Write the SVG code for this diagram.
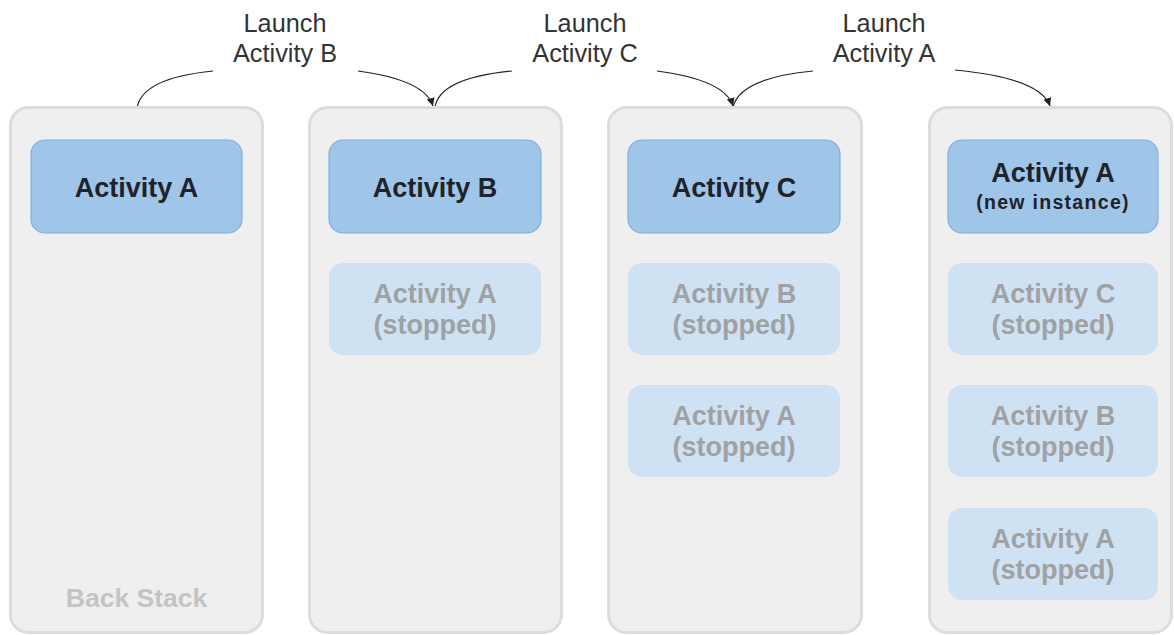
<svg xmlns="http://www.w3.org/2000/svg" width="1174" height="635" viewBox="0 0 1174 635">
<style>
.panel{fill:#efefef;stroke:#dcdcdc;stroke-width:3}
.top{fill:#9fc5e8;stroke:#80b0de;stroke-width:1.2}
.old{fill:#cfe2f3}
.t{font-family:"Liberation Sans",Arial,sans-serif;font-weight:bold;text-anchor:middle}
.dark{fill:#1e2329;font-size:27px}
.gray{fill:#9fa1a4;font-size:27px}
.bs{fill:#c4c4c4;font-size:26.5px}
.lab{font-family:"Liberation Sans",Arial,sans-serif;font-size:25.3px;fill:#333;text-anchor:middle}
.c{fill:none;stroke:#222;stroke-width:1.2}
</style>
<defs>
<marker id="ah" markerUnits="userSpaceOnUse" markerWidth="10" markerHeight="10" refX="8" refY="4" orient="auto">
<path d="M0,0 L8,4 L0,8 Z" fill="#222"/>
</marker>
</defs>
<g id="labels">
<text class="lab" x="285" y="32">Launch</text>
<text class="lab" x="285" y="62">Activity B</text>
<text class="lab" x="585" y="32">Launch</text>
<text class="lab" x="585" y="62">Activity C</text>
<text class="lab" x="884" y="32">Launch</text>
<text class="lab" x="884" y="62">Activity A</text>
</g>
<g id="connectors">
<path class="c" d="M137,108 Q142,78 213,71"/>
<path class="c" d="M358,71 Q425,80 433,106" marker-end="url(#ah)"/>
<path class="c" d="M435,107 Q440,78 512,71"/>
<path class="c" d="M657,71 Q725,80 733,106" marker-end="url(#ah)"/>
<path class="c" d="M733,107 Q740,78 813,71"/>
<path class="c" d="M955,70 Q1040,78 1050,106" marker-end="url(#ah)"/>
</g>
<g id="stack1">
<rect class="panel" x="10.5" y="107.5" width="252" height="525" rx="18"/>
<rect class="top" x="31" y="140" width="211" height="93" rx="14"/>
<text class="t dark" x="136.5" y="197">Activity A</text>
<text class="t bs" x="136.5" y="607">Back Stack</text>
</g>
<g id="stack2">
<rect class="panel" x="309.5" y="107.5" width="252" height="525" rx="18"/>
<rect class="top" x="329" y="140" width="212" height="93" rx="14"/>
<text class="t dark" x="435" y="197">Activity B</text>
<rect class="old" x="329" y="263" width="212" height="92" rx="14"/>
<text class="t gray" x="435" y="303">Activity A</text>
<text class="t gray" x="435" y="334">(stopped)</text>
</g>
<g id="stack3">
<rect class="panel" x="608.5" y="107.5" width="253" height="525" rx="18"/>
<rect class="top" x="628" y="140" width="212" height="93" rx="14"/>
<text class="t dark" x="734" y="197">Activity C</text>
<rect class="old" x="628" y="263" width="212" height="92" rx="14"/>
<text class="t gray" x="734" y="303">Activity B</text>
<text class="t gray" x="734" y="334">(stopped)</text>
<rect class="old" x="628" y="385" width="212" height="92" rx="14"/>
<text class="t gray" x="734" y="425">Activity A</text>
<text class="t gray" x="734" y="456">(stopped)</text>
</g>
<g id="stack4">
<rect class="panel" x="929.5" y="107.5" width="242" height="525" rx="18"/>
<rect class="top" x="948" y="140" width="210" height="93" rx="14"/>
<text class="t dark" x="1053" y="182">Activity A</text>
<text class="t dark" x="1053" y="209" style="font-size:19.5px;letter-spacing:1.3px">(new instance)</text>
<rect class="old" x="948" y="263" width="210" height="92" rx="14"/>
<text class="t gray" x="1053" y="303">Activity C</text>
<text class="t gray" x="1053" y="334">(stopped)</text>
<rect class="old" x="948" y="385" width="210" height="92" rx="14"/>
<text class="t gray" x="1053" y="425">Activity B</text>
<text class="t gray" x="1053" y="456">(stopped)</text>
<rect class="old" x="948" y="508" width="210" height="92" rx="14"/>
<text class="t gray" x="1053" y="548">Activity A</text>
<text class="t gray" x="1053" y="579">(stopped)</text>
</g>
</svg>
